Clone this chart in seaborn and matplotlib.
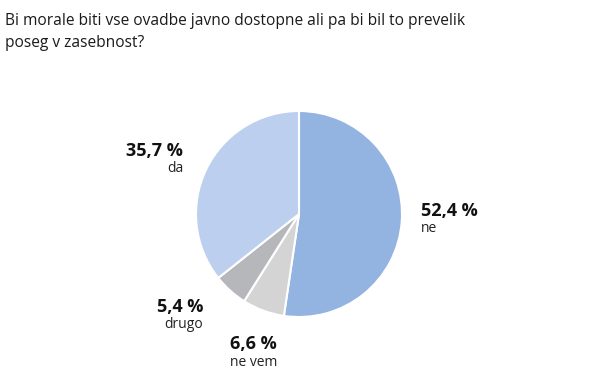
import matplotlib
matplotlib.use("Agg")
import matplotlib.pyplot as plt
import seaborn as sns

# survey answers, clockwise from the top
answers = ["ne", "ne vem", "drugo", "da"]
shares = [52.4, 6.6, 5.4, 35.7]
colors = ["#93b3e0", "#d4d4d5", "#b6b7ba", "#bccfee"]

title = "Bi morale biti vse ovadbe javno dostopne ali pa bi bil to prevelik\nposeg v zasebnost?"

sns.set_theme(style="white")
plt.rcParams["font.family"] = ["Open Sans", "DejaVu Sans"]

W, H = 600, 391
fig = plt.figure(figsize=(W / 100, H / 100), dpi=100)
ax = fig.add_axes([0, 0, 1, 1])

ax.pie(shares, colors=colors, startangle=90, counterclock=False,
       center=(299, H - 214), radius=103,
       wedgeprops=dict(edgecolor="white", linewidth=1.5))
ax.set_xlim(0, W)
ax.set_ylim(0, H)
ax.set_aspect("auto")
ax.axis("off")

# label anchors in pixels from top-left: (x, value baseline, alignment)
label_pos = {
    "ne": (421, 216, "left"),
    "ne vem": (230, 349, "left"),
    "drugo": (203, 312, "right"),
    "da": (183, 156, "right"),
}
for name, val in zip(answers, shares):
    x, y, ha = label_pos[name]
    ax.text(x, H - y, f"{val:.1f} %".replace(".", ","), ha=ha, va="baseline",
            fontsize=13, fontweight="bold", color="#111111")
    ax.text(x, H - y - 16.5, name, ha=ha, va="baseline",
            fontsize=10, color="#222222")

fig.text(5 / W, 1 - 47 / H, title, ha="left", va="baseline", fontsize=11.2,
         color="#1a1a1a", linespacing=1.5)

fig.savefig("out.png", dpi=100)
